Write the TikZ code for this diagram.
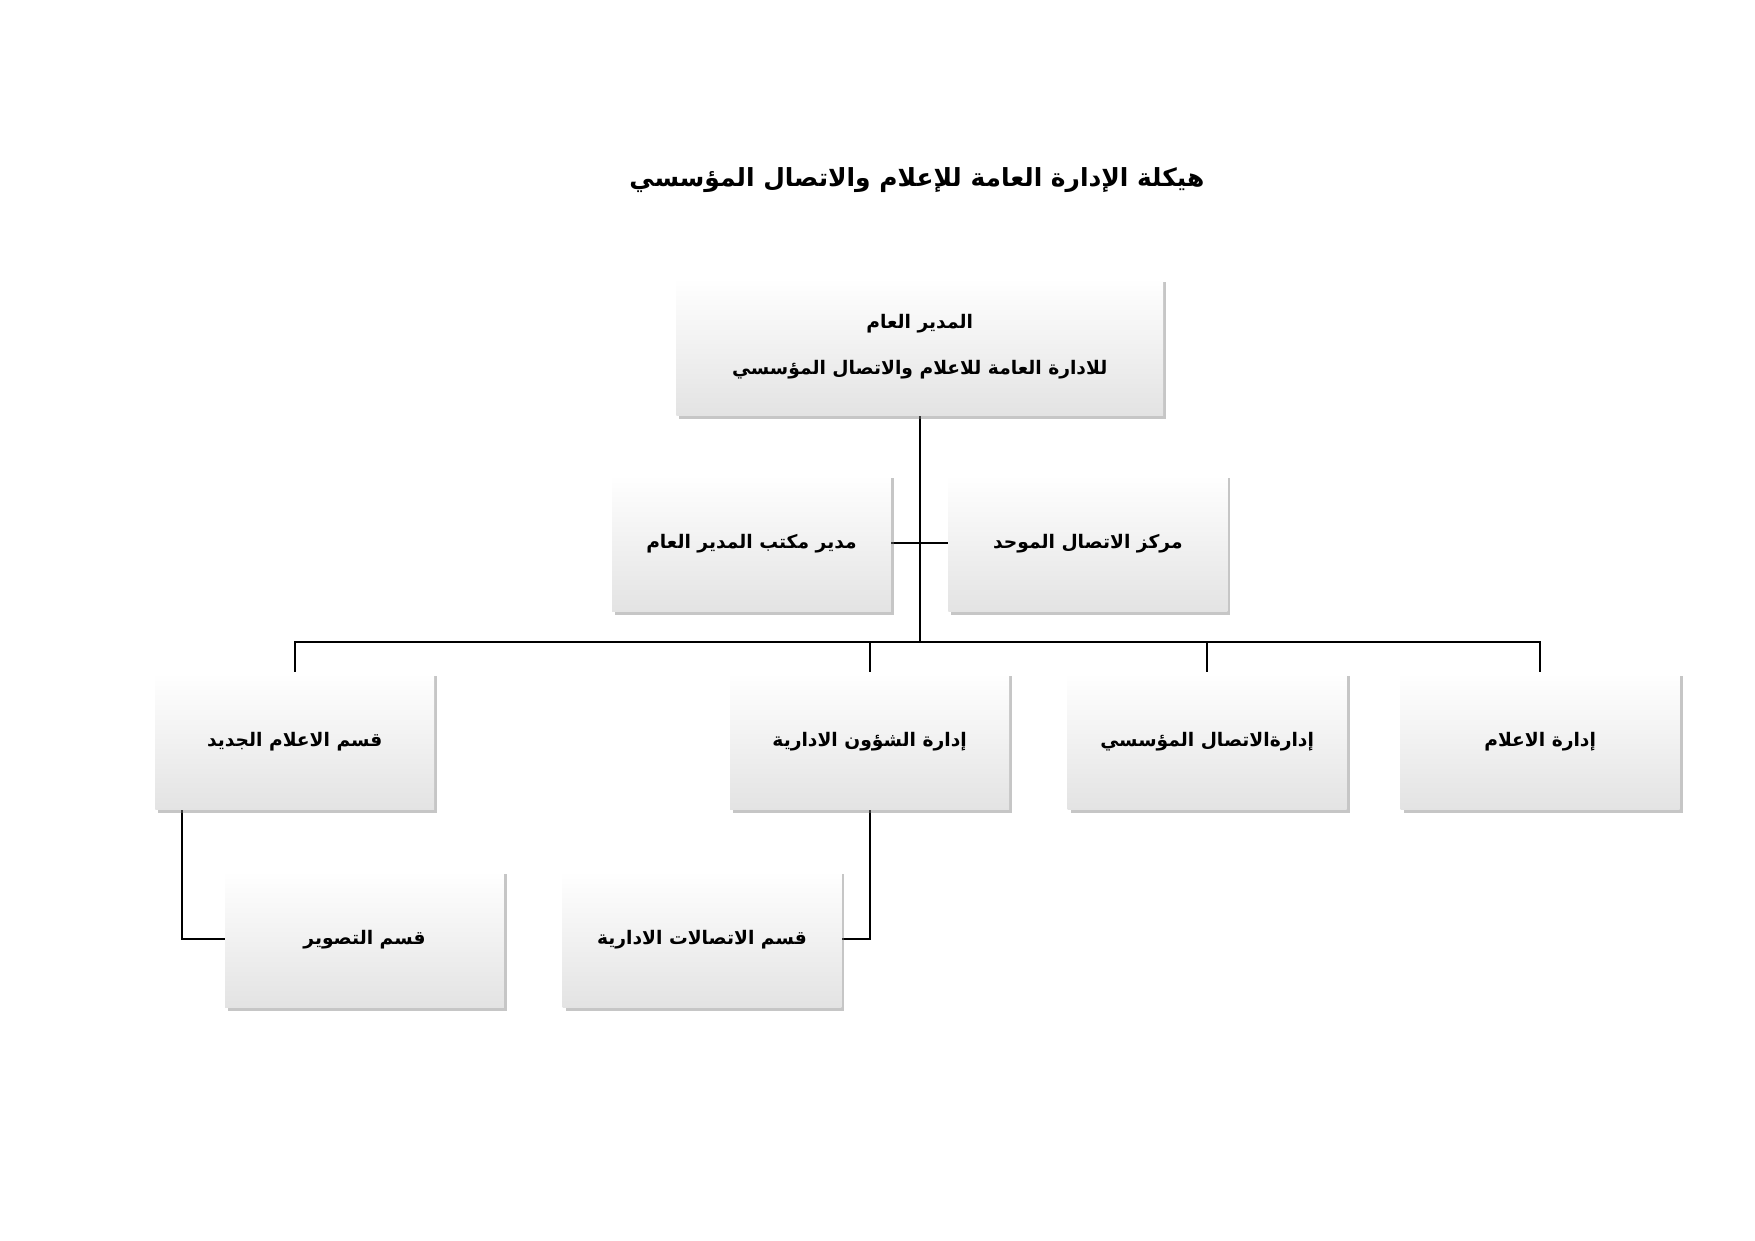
\documentclass[tikz,border=0pt]{standalone}
\usepackage{fontspec}
\newfontfamily\arabicfont[Script=Arabic]{DejaVu Sans}
\TeXXeTstate=1
\usetikzlibrary{positioning, shadows, backgrounds}
\newcommand{\ar}[1]{\arabicfont\beginR #1\endR}
\tikzset{
  unitbox/.style={draw=none, top color=white, bottom color=gray!22, drop shadow={opacity=0.45, shadow xshift=0.5mm, shadow yshift=-0.6mm},
    minimum width=4.72cm, minimum height=2.32cm, font=\small\bfseries, align=center},
  link/.style={line width=0.9pt, black}
}
\begin{document}
\begin{tikzpicture}[x=0.01904cm, y=-0.01904cm]
  \useasboundingbox (0,0) rectangle (1560,1103);

  \node[font=\large\bfseries] (title) at (815,160) {\ar{هيكلة الإدارة العامة للإعلام والاتصال المؤسسي}};

  % top
  \node[unitbox, minimum width=8.24cm] (gm) at (817.5,308) {\ar{المدير العام}\\[4mm] \ar{للادارة العامة للاعلام والاتصال المؤسسي}};

  % second level
  \node[unitbox] (office) at (668,483) {\ar{مدير مكتب المدير العام}};
  \node[unitbox] (center) at (967,483) {\ar{مركز الاتصال الموحد}};

  % third level
  \node[unitbox] (newmedia) at (262,659) {\ar{قسم الاعلام الجديد}};
  \node[unitbox] (admin) at (773,659) {\ar{إدارة الشؤون الادارية}};
  \node[unitbox] (corp) at (1073,659) {\ar{إدارةالاتصال المؤسسي}};
  \node[unitbox] (media) at (1369,659) {\ar{إدارة الاعلام}};

  % fourth level
  \node[unitbox] (photo) at (324,835) {\ar{قسم التصوير}};
  \node[unitbox] (admcom) at (624,835) {\ar{قسم الاتصالات الادارية}};

  \coordinate (bar) at (817.5,571);
  \coordinate (drop) at (162,720);
  \begin{pgfonlayer}{background}
    \draw[link] (gm.south) -- (bar);
    \draw[link] (office.east) -- (center.west);
    \draw[link] (newmedia.north) |- (bar) -| (media.north);
    \draw[link] (admin.north) -- (admin.north |- bar);
    \draw[link] (corp.north) -- (corp.north |- bar);
    \draw[link] (drop) |- (photo.west);
    \draw[link] (admin.south) |- (admcom.east);
  \end{pgfonlayer}
\end{tikzpicture}
\end{document}
